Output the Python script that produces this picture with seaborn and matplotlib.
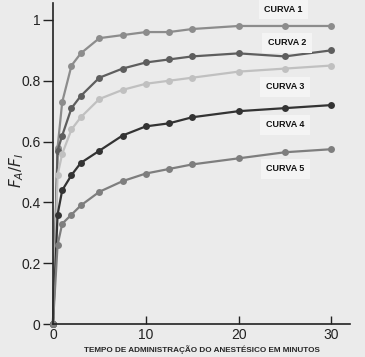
import matplotlib
matplotlib.use('Agg')
import matplotlib.pyplot as plt
import seaborn as sns
import pandas as pd

# Data
tempo = [0, 0.5, 1, 2, 3, 5, 7.5, 10, 12.5, 15, 20, 25, 30]
curva_1 = [0, 0.58, 0.73, 0.85, 0.89, 0.94, 0.95, 0.96, 0.96, 0.97, 0.98, 0.98, 0.98]
curva_2 = [0, 0.57, 0.62, 0.71, 0.75, 0.81, 0.84, 0.86, 0.87, 0.88, 0.89, 0.88, 0.90]
curva_3 = [0, 0.49, 0.56, 0.64, 0.68, 0.74, 0.77, 0.79, 0.80, 0.81, 0.83, 0.84, 0.85]
curva_4 = [0, 0.36, 0.44, 0.49, 0.53, 0.57, 0.62, 0.65, 0.66, 0.68, 0.70, 0.71, 0.72]
curva_5 = [0, 0.26, 0.33, 0.36, 0.39, 0.435, 0.47, 0.495, 0.51, 0.525, 0.545, 0.565, 0.575]
nomes = ['CURVA 1', 'CURVA 2', 'CURVA 3', 'CURVA 4', 'CURVA 5']
y_ticks = [0, 0.2, 0.4, 0.6, 0.8, 1]
y_tick_labels = ['0', '0.2', '0.4', '0.6', '0.8', '1']
x_ticks = [0, 10, 20, 30]

cores = ['#8c8c8c', '#5e5e5e', '#c0c0c0', '#333333', '#7e7e7e']
# label positions (data coords)
label_pos = [(24.8, 1.035), (25.2, 0.925), (25.0, 0.78), (25.0, 0.655), (25.0, 0.51)]

df = pd.concat([
    pd.DataFrame({'tempo': tempo, 'fa': vals, 'curva': nome})
    for nome, vals in zip(nomes, [curva_1, curva_2, curva_3, curva_4, curva_5])
])

sns.set_style('ticks')
plt.rcParams['font.family'] = ['Liberation Sans', 'DejaVu Sans']

bg = '#ebebeb'
fig = plt.figure(figsize=(3.65, 3.57), dpi=100, facecolor=bg)
ax = fig.add_axes([0.145, 0.092, 0.814, 0.9])
ax.set_facecolor(bg)

sns.lineplot(data=df, x='tempo', y='fa', hue='curva', palette=cores,
             marker='o', markersize=5, markeredgewidth=0, linewidth=1.6,
             legend=False, ax=ax, clip_on=False)

for nome, (lx, ly) in zip(nomes, label_pos):
    ax.text(lx, ly, nome, fontsize=6.5, fontweight='bold',
            ha='center', va='center', color='#111111',
            bbox=dict(boxstyle='square,pad=0.6', fc='#f4f4f4', ec='none'))

ax.set_xlim(0, 32)
ax.set_ylim(0, 1.056)
ax.set_yticks(y_ticks)
ax.set_yticklabels(y_tick_labels)
ax.set_xticks(x_ticks)
ax.tick_params(axis='x', direction='in', length=6, width=1, labelsize=10, pad=3)
ax.tick_params(axis='y', direction='out', length=7, width=1, labelsize=10, pad=2)
ax.tick_params(colors='#222222')

ax.set_xlabel('TEMPO DE ADMINISTRAÇÃO DO ANESTÉSICO EM MINUTOS',
              fontsize=5.9, fontweight='bold', labelpad=2)
ax.set_ylabel(r'$F_A/F_I$', fontsize=11)
ax.yaxis.set_label_coords(-0.09, 0.48)

for side in ['top', 'right']:
    ax.spines[side].set_visible(False)
for side in ['left', 'bottom']:
    ax.spines[side].set_linewidth(1.2)
    ax.spines[side].set_color('#222222')

fig.savefig('out.png', dpi=100, facecolor=bg)
